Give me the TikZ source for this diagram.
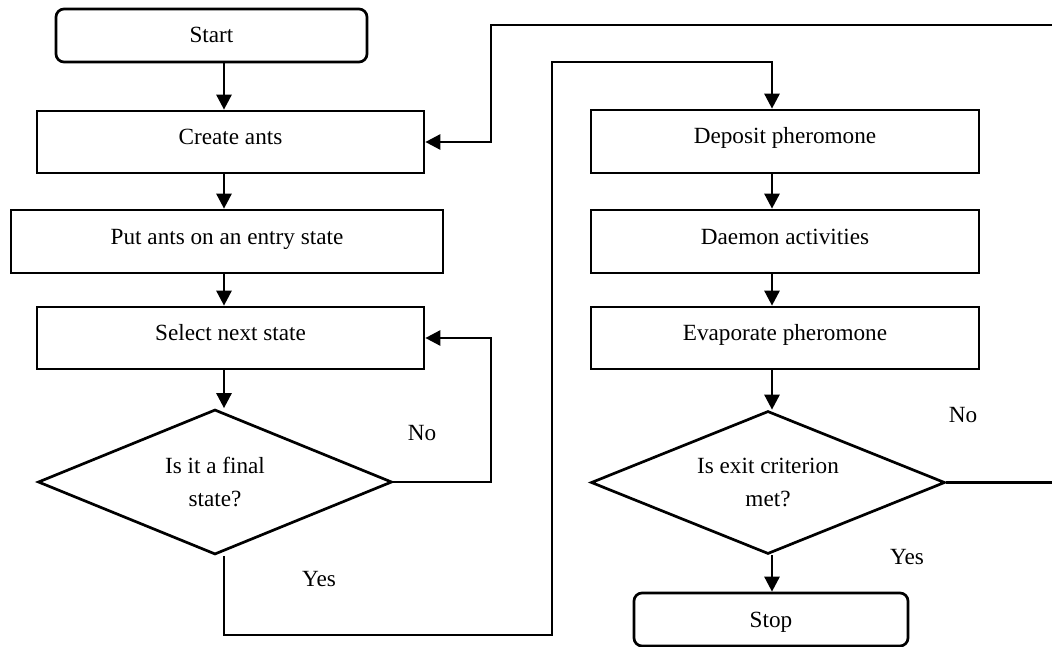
\documentclass[tikz,border=0pt]{standalone}
\usepackage{fontspec}
\setmainfont{Liberation Serif}
\usetikzlibrary{shapes.geometric,arrows.meta}
\begin{document}
\begin{tikzpicture}[x=1pt,y=-1pt,
  font=\fontsize{23.2}{33}\selectfont,
  line width=2.7pt,
  stepbox/.style={draw,rectangle,inner sep=0pt,minimum height=62pt,
    text height=15pt,text depth=10pt},
  termbox/.style={draw,rectangle,rounded corners=8pt,inner sep=0pt,
    minimum height=53pt,text height=15pt,text depth=0pt},
  decision/.style={draw,diamond,inner sep=0pt,align=center,aspect=2.45,
    minimum width=354pt,minimum height=145pt},
  lbl/.style={inner sep=0pt},
  arr/.style={-{Triangle[length=15pt,width=15pt]}}]
\useasboundingbox (0,0) rectangle (1052,647);

% left column
\node[termbox,minimum width=311pt] (start) at (211.5,35.5) {Start};
\node[stepbox,minimum width=387pt] (create) at (230.5,142) {Create ants};
\node[stepbox,minimum width=432pt,minimum height=63pt] (put) at (227,241.5) {Put ants on an entry state};
\node[stepbox,minimum width=387pt] (select) at (230.5,338) {Select next state};
\node[decision] (dec1) at (215,482) {Is it a final\\state?};

% right column
\node[stepbox,minimum width=388pt,minimum height=63pt] (deposit) at (785,141.5) {Deposit pheromone};
\node[stepbox,minimum width=388pt,minimum height=63pt] (daemon) at (785,241.5) {Daemon activities};
\node[stepbox,minimum width=388pt] (evap) at (785,338) {Evaporate pheromone};
\node[decision,minimum height=143pt] (dec2) at (768,482.5) {Is exit criterion\\met?};
\node[termbox,minimum width=274pt] (stop) at (771,619.5) {Stop};

% branch labels
\node[lbl] (no1) at (422,433) {No};
\node[lbl] (yes1) at (319,579) {Yes};
\node[lbl] (no2) at (963,415) {No};
\node[lbl] (yes2) at (907,557) {Yes};

% routing coordinates
\coordinate (lc) at (224,0);
\coordinate (rc) at (772,0);
\coordinate (nx) at (491,0);
\coordinate (tr) at (1052,25);
\coordinate (edge) at (1052,0);
\coordinate (yb) at (552,635);
\coordinate (ya) at (552,62);

% main flow, left column
\draw[arr] (start.south -| lc) -- (create.north -| lc);
\draw[arr] (create.south -| lc) -- (put.north -| lc);
\draw[arr] (put.south -| lc) -- (select.north -| lc);
\draw[arr] (select.south -| lc) -- (dec1.north -| lc);

% "No": back to next-state selection
\draw[arr] (dec1.east) -- (dec1.east -| nx) |- (select.east);

% "Yes": over to the pheromone update
\draw[arr] (dec1.south -| lc) |- (yb) -- (ya) -| (deposit.north -| rc);

% right column
\draw[arr] (deposit.south -| rc) -- (daemon.north -| rc);
\draw[arr] (daemon.south -| rc) -- (evap.north -| rc);
\draw[arr] (evap.south -| rc) -- (dec2.north -| rc);
\draw[arr] (dec2.south -| rc) -- (stop.north -| rc);

% "No": loop back to ant creation
\draw (dec2.east) -- (dec2.east -| edge);
\draw[arr] (tr) -| (nx |- create.east) -- (create.east);
\end{tikzpicture}
\end{document}
